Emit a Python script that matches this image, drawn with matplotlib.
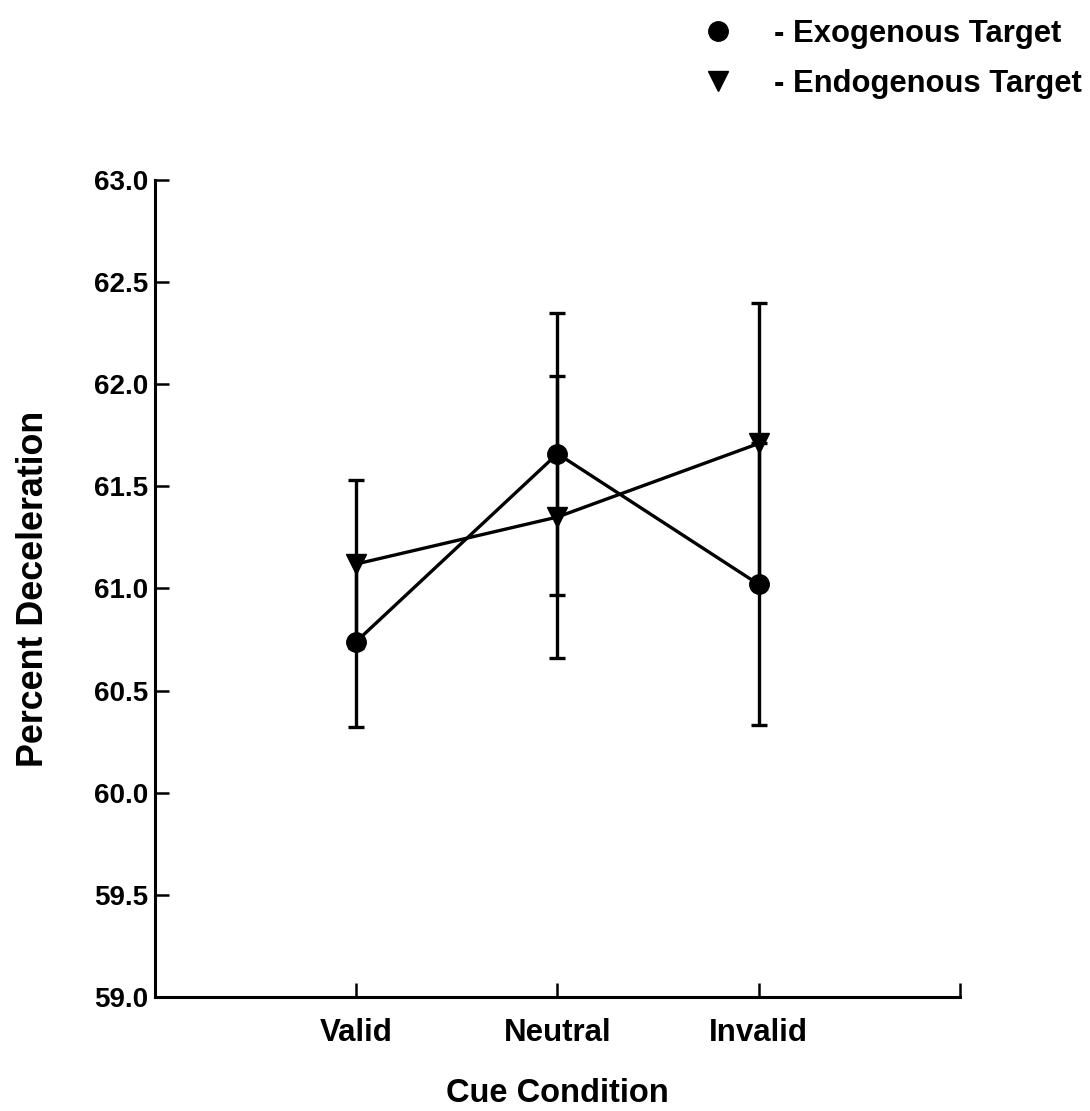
import matplotlib.pyplot as plt
from matplotlib.lines import Line2D

plt.rcParams['font.family'] = ['Liberation Sans', 'DejaVu Sans']

# Data
conditions = ['Valid', 'Neutral', 'Invalid']
exo_mean = [60.74, 61.66, 61.02]
exo_err = [0.42, 0.69, 0.69]
endo_mean = [61.12, 61.35, 61.71]
endo_err = [0.41, 0.69, 0.69]

x = [1, 2, 3]

fig = plt.figure(figsize=(10.9, 11.11), dpi=100)
ax = fig.add_axes([0.1422, 0.1026, 0.7385, 0.7354])

common = dict(color='black', lw=2.4, elinewidth=2.4, capsize=5.5, capthick=2.4)
ax.errorbar(x, exo_mean, yerr=exo_err, marker='o', markersize=14, **common)
ax.errorbar(x, endo_mean, yerr=endo_err, marker='v', markersize=14, **common)

ax.set_xlim(0, 4)
ax.set_ylim(59.0, 63.0)
ax.set_xticks([0, 1, 2, 3, 4])
ax.set_xticklabels([''] + conditions + [''])
ax.set_yticks([59.0 + 0.5 * i for i in range(9)])
ax.set_yticklabels(['%.1f' % (59.0 + 0.5 * i) for i in range(9)])

ax.spines['top'].set_visible(False)
ax.spines['right'].set_visible(False)
for s in ('left', 'bottom'):
    ax.spines[s].set_linewidth(2.2)
ax.tick_params(axis='both', direction='in', length=10, width=1.8)
ax.tick_params(axis='y', labelsize=20, pad=5)
ax.tick_params(axis='x', labelsize=22.5, pad=15)
for lab in ax.get_xticklabels() + ax.get_yticklabels():
    lab.set_fontweight('bold')

ax.set_xlabel('Cue Condition', fontsize=23.5, fontweight='bold', labelpad=22)
ax.set_ylabel('Percent Deceleration', fontsize=25.8, fontweight='bold', labelpad=31)

handles = [Line2D([], [], color='black', marker='o', linestyle='none', markersize=14),
           Line2D([], [], color='black', marker='v', linestyle='none', markersize=14)]
fig.legend(handles, ['- Exogenous Target', '- Endogenous Target'],
           loc='upper right', bbox_to_anchor=(1.018, 1.008), frameon=False,
           prop={'size': 22.3, 'weight': 'bold'}, handlelength=1.0,
           handletextpad=1.3, labelspacing=0.65)

fig.savefig('out.png', dpi=100)
